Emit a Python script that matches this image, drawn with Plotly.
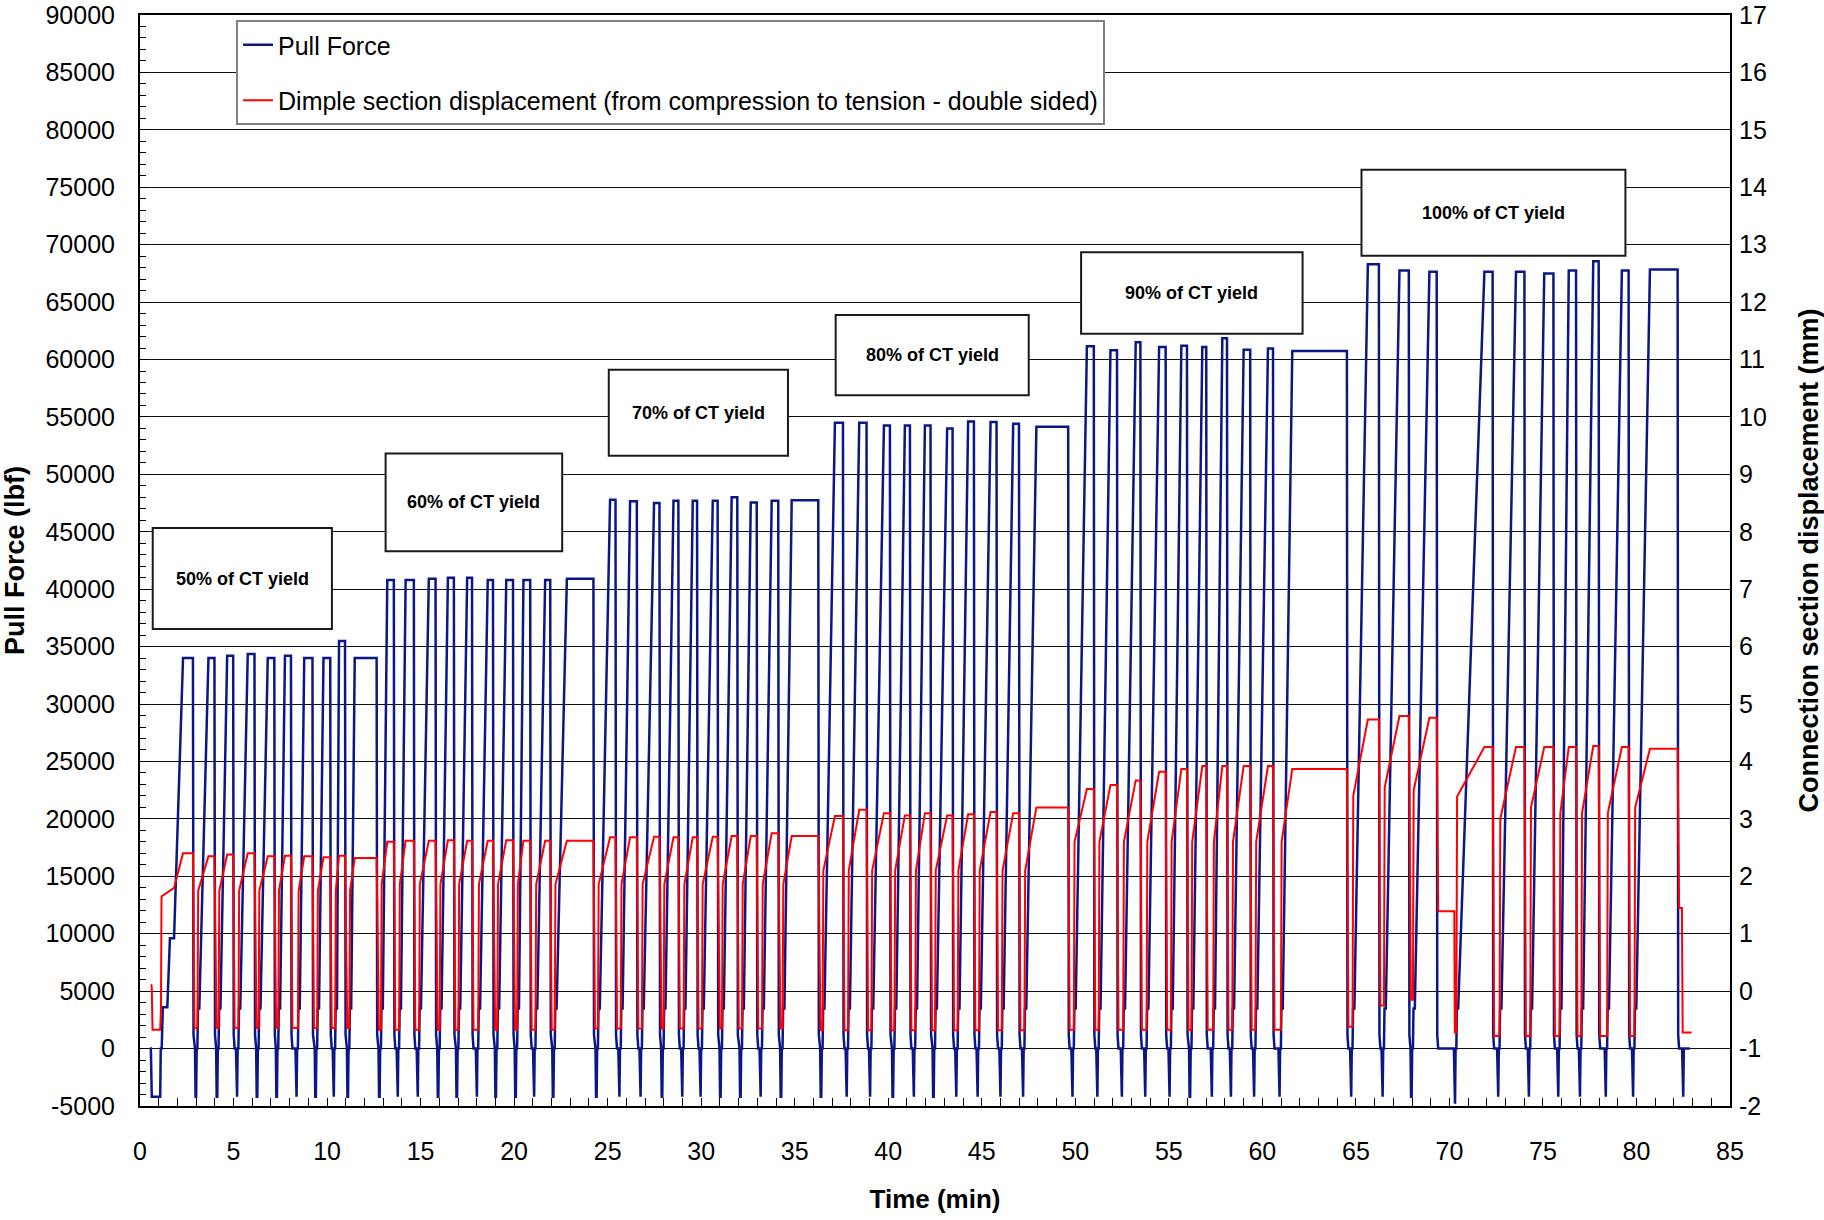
import plotly.graph_objects as go

# ---------------- data ----------------
# time of the compression dip that precedes each load cycle (min)
dip_t = [0.85, 2.97, 4.10, 5.16, 6.24, 7.29, 8.34, 9.37, 10.33, 11.09,
         12.78, 13.75, 14.82, 15.92, 16.92, 17.98, 19.00, 20.06, 21.04, 22.07,
         24.38, 25.60, 26.73, 27.89, 28.96, 29.94, 31.01, 32.08, 33.15, 34.25,
         36.39, 37.75, 39.00, 40.23, 41.34, 42.40, 43.61, 44.75, 45.97, 47.18,
         49.82, 51.15, 52.46, 53.71, 55.01, 56.11, 57.27, 58.29, 59.53, 60.89,
         64.72, 66.40, 67.95, 70.27, 72.58, 74.22, 75.79, 76.95, 78.33, 79.79]
# force at the bottom of that dip (lbf)
dip_f = [-4200] * 53 + [-4800] + [-4200] * 6
# time the peak load is reached (min)
reach_t = [2.30, 3.66, 4.66, 5.76, 6.83, 7.75, 8.78, 9.81, 10.64, 11.48,
           13.22, 14.20, 15.44, 16.46, 17.49, 18.59, 19.58, 20.50, 21.66, 22.82,
           25.13, 26.20, 27.48, 28.52, 29.55, 30.62, 31.63, 32.65, 33.77, 34.84,
           37.15, 38.45, 39.77, 40.89, 41.96, 43.15, 44.27, 45.47, 46.68, 47.92,
           50.62, 51.88, 53.23, 54.48, 55.67, 56.79, 57.86, 59.00, 60.30, 61.60,
           65.64, 67.33, 68.93, 71.87, 73.56, 75.07, 76.38, 77.69, 79.22, 80.72]
# time the load is released (min)
fall_t = [2.83, 3.98, 4.98, 6.12, 7.18, 8.07, 9.22, 10.17, 10.96, 12.65,
          13.57, 14.64, 15.80, 16.78, 17.75, 18.87, 19.94, 20.86, 21.93, 24.24,
          25.42, 26.56, 27.77, 28.78, 29.78, 30.88, 31.93, 32.97, 34.12, 36.26,
          37.58, 38.84, 40.09, 41.16, 42.26, 43.44, 44.58, 45.79, 46.99, 49.62,
          50.99, 52.23, 53.48, 54.83, 55.97, 57.00, 58.11, 59.35, 60.57, 64.52,
          66.23, 67.83, 69.32, 72.31, 74.01, 75.56, 76.77, 77.98, 79.58, 82.20]
# peak pull force of each cycle (lbf)
peak_f = [34000, 34000, 34200, 34350, 34000, 34200, 34000, 34000, 35500, 34000,
          40800, 40800, 40900, 41000, 41000, 40800, 40800, 40800, 40800, 40900,
          47800, 47650, 47500, 47700, 47700, 47700, 48000, 47550, 47700, 47750,
          54500, 54500, 54250, 54250, 54250, 54000, 54600, 54550, 54400, 54150,
          61150, 60800, 61500, 61100, 61200, 61100, 61850, 60850, 60950, 60750,
          68300, 67750, 67650, 67650, 67650, 67500, 67750, 68550, 67750, 67850]
# displacement (mm): plateau under load
disp_high = [2.40, 2.35, 2.38, 2.40, 2.35, 2.36, 2.35, 2.33, 2.36, 2.32,
             2.60, 2.62, 2.62, 2.63, 2.62, 2.62, 2.63, 2.62, 2.62, 2.62,
             2.68, 2.68, 2.69, 2.68, 2.68, 2.69, 2.70, 2.70, 2.75, 2.70,
             3.05, 3.16, 3.10, 3.06, 3.10, 3.06, 3.08, 3.12, 3.10, 3.20,
             3.52, 3.59, 3.67, 3.82, 3.87, 3.92, 3.92, 3.92, 3.92, 3.87,
             4.73, 4.79, 4.76, 4.25, 4.25, 4.25, 4.25, 4.27, 4.25, 4.22]
# displacement (mm) during the compression dip before each cycle
disp_low = [-0.67, -0.64, -0.64, -0.64, -0.64, -0.64, -0.64, -0.64, -0.64, -0.64,
            -0.67, -0.67, -0.67, -0.67, -0.67, -0.67, -0.67, -0.67, -0.67, -0.67,
            -0.65, -0.65, -0.65, -0.65, -0.65, -0.65, -0.65, -0.65, -0.65, -0.65,
            -0.68, -0.68, -0.68, -0.68, -0.68, -0.68, -0.68, -0.68, -0.68, -0.68,
            -0.67, -0.67, -0.67, -0.67, -0.67, -0.67, -0.67, -0.67, -0.67, -0.67,
            -0.62, -0.25, -0.15, -0.72, -0.78, -0.78, -0.78, -0.78, -0.78, -0.78]
# displacement (mm) right after loading starts
disp_rise = [1.65, 1.75, 1.75, 1.75, 1.75, 1.75, 1.75, 1.75, 1.75, 1.75,
             1.86, 1.86, 1.86, 1.86, 1.86, 1.86, 1.86, 1.86, 1.86, 1.86,
             1.86, 1.86, 1.86, 1.86, 1.86, 1.86, 1.86, 1.86, 1.86, 1.86,
             2.10, 2.10, 2.10, 2.10, 2.10, 2.10, 2.10, 2.10, 2.10, 2.10,
             2.60, 2.60, 2.60, 2.60, 2.60, 2.60, 2.60, 2.60, 2.60, 2.60,
             3.40, 3.55, 3.50, 3.39, 3.00, 3.20, 3.10, 3.10, 3.10, 3.20]
# displacement (mm) held after unloading, until the next dip
disp_post = [-0.64, -0.64, -0.64, -0.64, -0.64, -0.64, -0.64, -0.64, -0.64, -0.67,
             -0.67, -0.67, -0.67, -0.67, -0.67, -0.67, -0.67, -0.67, -0.67, -0.65,
             -0.65, -0.65, -0.65, -0.65, -0.65, -0.65, -0.65, -0.65, -0.65, -0.68,
             -0.68, -0.68, -0.68, -0.68, -0.68, -0.68, -0.68, -0.68, -0.68, -0.67,
             -0.67, -0.67, -0.67, -0.67, -0.67, -0.67, -0.67, -0.67, -0.67, -0.62,
             -0.25, -0.15, 1.39, -0.78, -0.78, -0.78, -0.78, -0.78, -0.78, 1.45]

# start-up and end segments
lead_t = [0.52, 0.58, 0.63, 1.08, 1.11, 1.16, 1.22, 1.46, 1.60, 1.82]
lead_f = [0, 0, -4200, -4200, 0, 0, 3600, 3600, 9600, 9600]
lead_rt = [0.61, 0.63, 0.67, 1.08, 1.12, 1.15, 1.82]
lead_rd = [0.12, 0.05, -0.67, -0.67, -0.33, 1.65, 1.80]
tail_t = [82.44, 82.47, 82.50, 82.53, 82.85]
tail_f = [0, -4200, -4200, 0, 0]
tail_rt = [82.43, 82.47, 82.95]
tail_rd = [1.45, -0.72, -0.72]

# load-level boxes: label, x0, x1, y0, y1 (in data units)
box_labels = ["50% of CT yield", "60% of CT yield", "70% of CT yield",
              "80% of CT yield", "90% of CT yield", "100% of CT yield"]
box_x0 = [0.68, 13.13, 25.06, 37.19, 50.31, 65.30]
box_x1 = [10.26, 22.57, 34.64, 47.51, 62.15, 79.41]
box_y0 = [36526, 43310, 51615, 56882, 62250, 69040]
box_y1 = [45337, 51818, 59110, 63870, 69340, 76530]

x_ticks = list(range(0, 90, 5))
y_ticks = list(range(-5000, 95000, 5000))
y_tick_text = [str(v) for v in y_ticks]
y2_ticks = list(range(-2, 18))
y2_tick_text = [str(v) for v in y2_ticks]

# ---------------- build the traces ----------------
bx, by = list(lead_t), list(lead_f)
rx, ry = list(lead_rt), list(lead_rd)
for i in range(len(dip_t)):
    if i > 0:
        d = dip_t[i]
        bx += [d - 0.03, d, d + 0.03, d + 0.06, d + 0.10, d + 0.13, d + 0.20]
        by += [0, dip_f[i], dip_f[i], 0, 0, 3500, 3500]
        rx += [d - 0.01, d + 0.02, d + 0.10, d + 0.14]
        ry += [disp_post[i - 1], disp_low[i], disp_low[i], disp_rise[i]]
    bx += [reach_t[i], fall_t[i], fall_t[i] + 0.03, fall_t[i] + 0.08]
    by += [peak_f[i], peak_f[i], 1200, 0]
    rx += [reach_t[i], fall_t[i], fall_t[i] + 0.08]
    ry += [disp_high[i], disp_high[i], disp_post[i]]
bx += tail_t
by += tail_f
rx += tail_rt
ry += tail_rd

FONT = "Liberation Sans, Arial, sans-serif"

fig = go.Figure()
fig.add_trace(go.Scatter(x=bx, y=by, mode="lines", name="Pull Force",
                         legendgroup="a",
                         line=dict(color="#0b1787", width=2.5)))
fig.add_trace(go.Scatter(x=rx, y=ry, mode="lines", yaxis="y2", legendgroup="b",
                         name="Dimple section displacement (from compression to tension - double sided)",
                         line=dict(color="#ff0000", width=2)))

for lab, x0, x1, y0, y1 in zip(box_labels, box_x0, box_x1, box_y0, box_y1):
    fig.add_shape(type="rect", xref="x", yref="y", x0=x0, x1=x1, y0=y0, y1=y1,
                  fillcolor="white", line=dict(color="#1a1a1a", width=2), layer="above")
    fig.add_annotation(x=(x0 + x1) / 2, y=(y0 + y1) / 2, xref="x", yref="y",
                       text="<b>%s</b>" % lab, showarrow=False,
                       font=dict(family=FONT, size=18, color="black"))

fig.update_layout(
    width=1824, height=1220,
    margin=dict(l=140, r=94, t=15, b=114),
    paper_bgcolor="white", plot_bgcolor="white",
    font=dict(family=FONT, size=25, color="black"),
    showlegend=True,
    legend=dict(x=0.0604, y=0.9954, xanchor="left", yanchor="top",
                bgcolor="white", bordercolor="#808080", borderwidth=2,
                font=dict(family=FONT, size=25), tracegroupgap=20,
                itemwidth=30),
    xaxis=dict(range=[0, 85], tickvals=x_ticks, ticks="inside", ticklen=8,
               tickcolor="black", showgrid=False, zeroline=False, automargin=False,
               showline=True, linecolor="black", linewidth=2, mirror=True,
               minor=dict(dtick=1, ticks="inside", ticklen=8, tickcolor="black"),
               ticklabelstandoff=22,
               title=dict(text="<b>Time (min)</b>", standoff=26,
                          font=dict(family=FONT, size=26))),
    yaxis=dict(range=[-5000, 90000], tickvals=y_ticks, ticktext=y_tick_text,
               ticks="inside", ticklen=7, automargin=False,
               tickcolor="black", showgrid=True, gridcolor="#111111", gridwidth=1,
               zeroline=False, showline=True, linecolor="black", linewidth=2,
               mirror=True,
               minor=dict(dtick=1000, ticks="inside", ticklen=6, tickcolor="black",
                          showgrid=False),
               ticklabelstandoff=18,
               title=dict(text="<b>Pull Force (lbf)</b>", standoff=17,
                          font=dict(family=FONT, size=27))),
    yaxis2=dict(range=[-2, 17], tickvals=y2_ticks, ticktext=y2_tick_text,
                overlaying="y", side="right", automargin=False,
                showgrid=False, zeroline=False, ticks="", ticklabelstandoff=8,
                title=dict(text="<b>Connection section displacement (mm)</b>",
                           standoff=34, font=dict(family=FONT, size=27))),
)

fig.write_html("out.html", config={"displayModeBar": False},
               post_script="document.body.style.margin='0';document.body.style.overflow='hidden';")
